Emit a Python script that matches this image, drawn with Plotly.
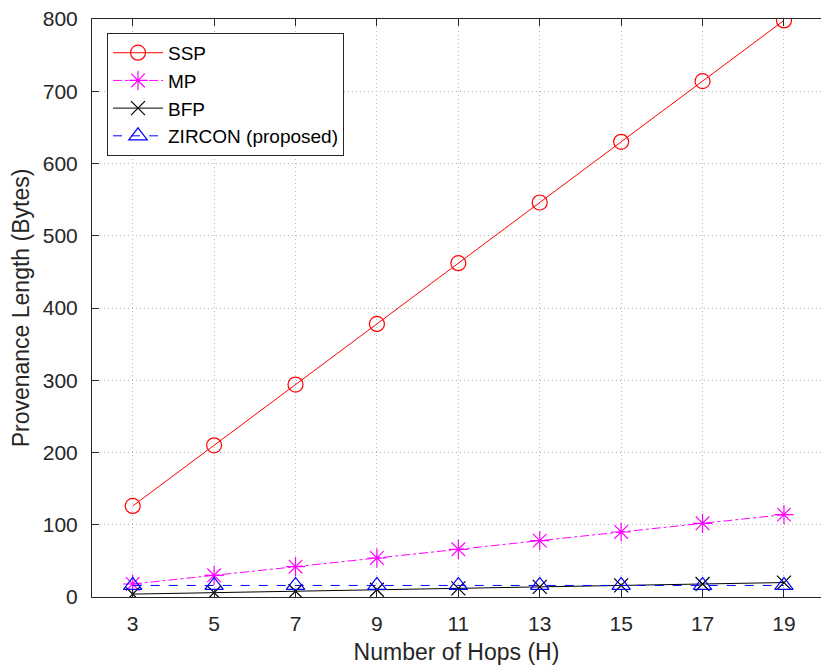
import plotly.graph_objects as go

hops = [3, 5, 7, 9, 11, 13, 15, 17, 19]
ssp = [126, 210, 294, 378, 462, 546, 630, 714, 798]
mp = [18, 30, 42, 54, 66, 78, 90, 102, 114]
bfp = [4, 6, 8, 10, 12, 14, 16, 18, 20]
zircon = [16, 16, 16, 16, 16, 16, 16, 16, 16]
y_ticks = [0, 100, 200, 300, 400, 500, 600, 700, 800]

FONT = "Liberation Sans, Arial, sans-serif"
AXIS_COLOR = "#262626"
GRID_DASH = "1px,3px"

fig = go.Figure()
fig.add_trace(go.Scatter(
    x=hops, y=ssp, name="SSP", mode="lines+markers",
    line=dict(color="#ff0000", width=1),
    marker=dict(symbol="circle-open", size=15, color="#ff0000", line=dict(width=1.2)),
))
fig.add_trace(go.Scatter(
    x=hops, y=mp, name="MP", mode="lines+markers",
    line=dict(color="#ff00ff", width=1, dash="dashdot"),
    marker=dict(symbol="asterisk-open", size=16, color="#ff00ff", line=dict(width=1.2, color="#ff00ff")),
))
fig.add_trace(go.Scatter(
    x=hops, y=bfp, name="BFP", mode="lines+markers",
    line=dict(color="#000000", width=1),
    marker=dict(symbol="x-thin-open", size=14, color="#000000", line=dict(width=1.2, color="#000000")),
))
fig.add_trace(go.Scatter(
    x=hops, y=zircon, name="ZIRCON (proposed)", mode="lines+markers",
    line=dict(color="#0000ff", width=1, dash="dash"),
    marker=dict(symbol="triangle-up-open", size=16, color="#0000ff", line=dict(width=1.2)),
))

fig.update_layout(
    width=821, height=671,
    margin=dict(l=92, r=0, t=19, b=74),
    paper_bgcolor="white", plot_bgcolor="white",
    font=dict(family=FONT, size=21, color=AXIS_COLOR),
    legend=dict(
        x=0.0206, y=0.976, xanchor="left", yanchor="top",
        bgcolor="white", bordercolor=AXIS_COLOR, borderwidth=1,
        font=dict(family=FONT, size=19, color="#000000"),
        tracegroupgap=0, itemwidth=50,
    ),
    showlegend=True,
)
fig.update_xaxes(
    range=[2, 19.91], tickvals=hops, ticktext=[str(h) for h in hops],
    ticks="inside", ticklen=7, tickcolor=AXIS_COLOR, tickwidth=1,
    showline=True, linecolor=AXIS_COLOR, linewidth=1, mirror="ticks",
    showgrid=True, gridcolor="#b8b8b8", griddash=GRID_DASH, gridwidth=1,
    zeroline=False, ticklabelstandoff=8,
    title=dict(text="Number of Hops (H)", font=dict(size=23, color=AXIS_COLOR), standoff=9),
    tickfont=dict(size=21, color=AXIS_COLOR),
)
fig.update_yaxes(
    range=[0, 800], tickvals=y_ticks,
    ticks="inside", ticklen=7, tickcolor=AXIS_COLOR, tickwidth=1,
    showline=True, linecolor=AXIS_COLOR, linewidth=1, mirror=False,
    showgrid=True, gridcolor="#b8b8b8", griddash=GRID_DASH, gridwidth=1,
    zeroline=False, ticklabelstandoff=9,
    title=dict(text="Provenance Length (Bytes)", font=dict(size=23, color=AXIS_COLOR), standoff=6),
    tickfont=dict(size=21, color=AXIS_COLOR),
)

fig.write_html("out.html")
